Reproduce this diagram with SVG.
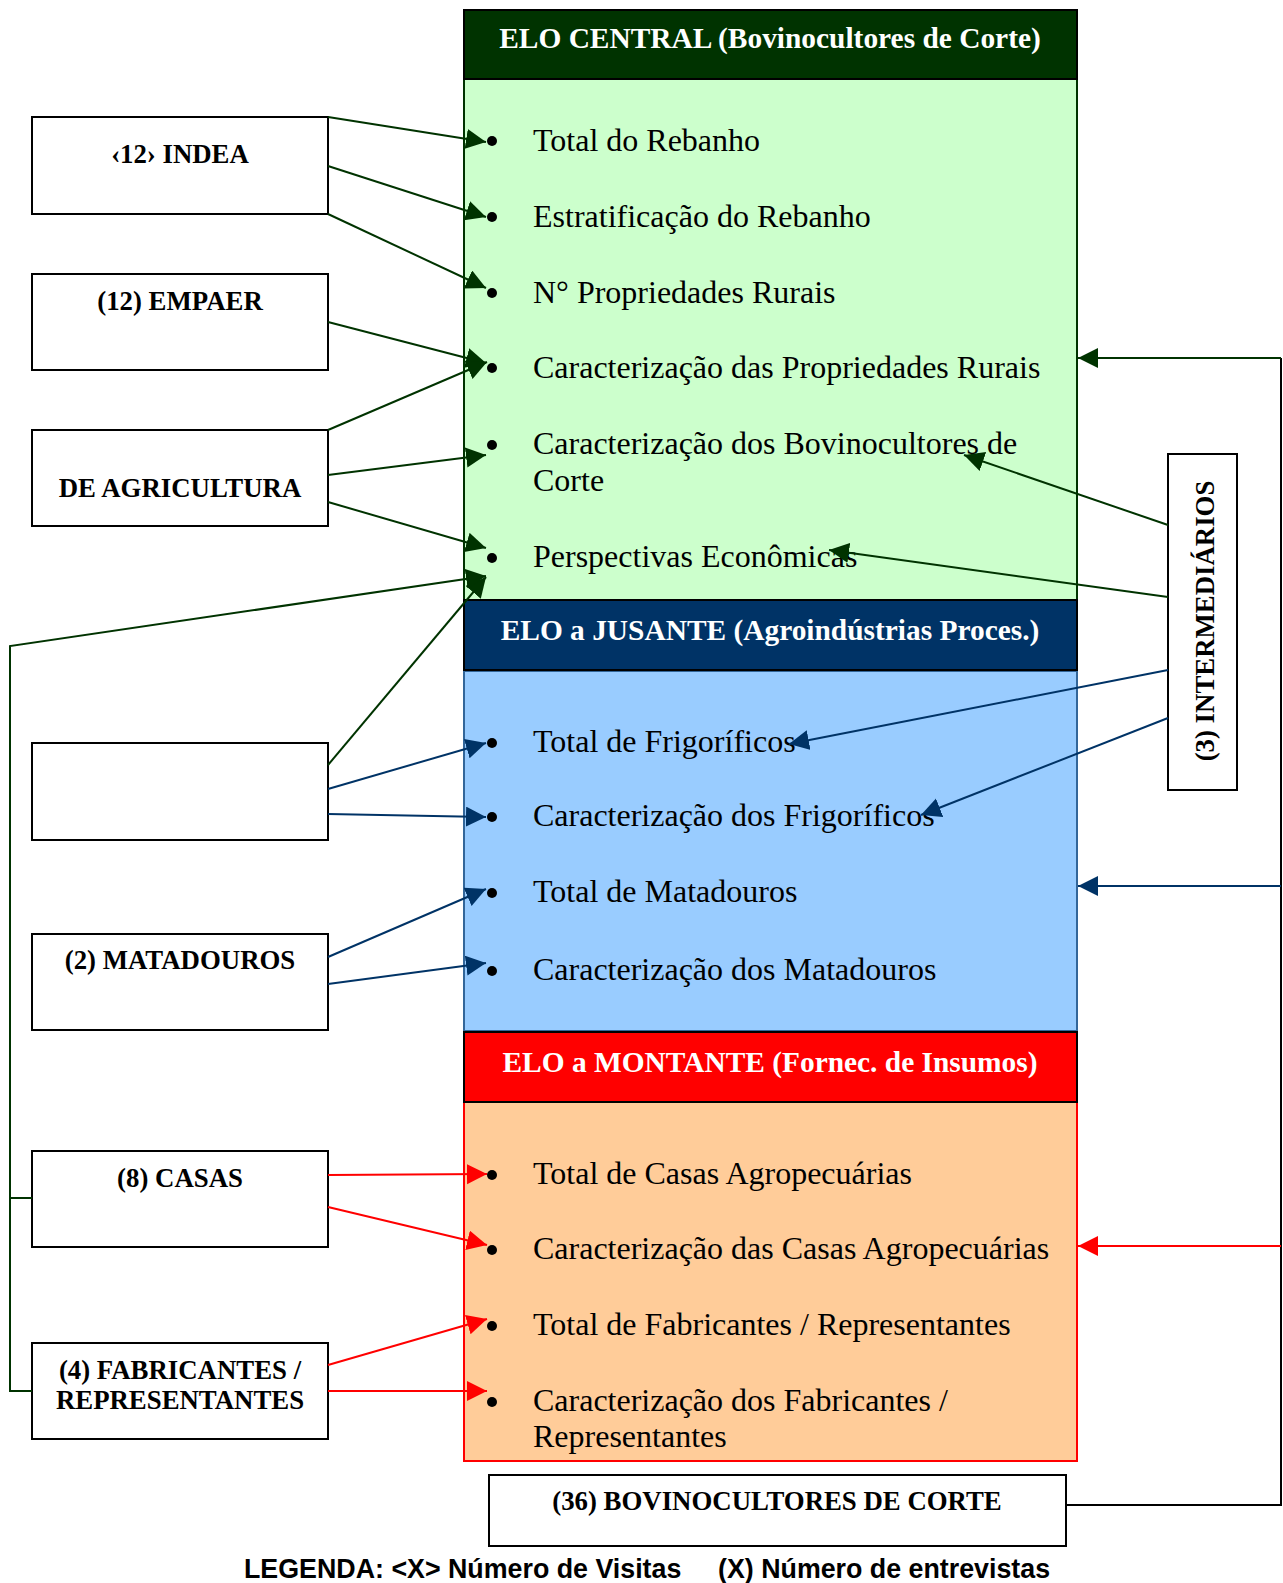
<svg xmlns="http://www.w3.org/2000/svg" width="1283" height="1583" viewBox="0 0 1283 1583">
<style>
.box{fill:#fff;stroke:#000;stroke-width:2}
.lbl{font-family:"Liberation Serif","Times New Roman",serif;font-weight:bold;font-size:26.8px;fill:#000;text-anchor:middle}
.hdr{font-family:"Liberation Serif","Times New Roman",serif;font-weight:bold;font-size:29.4px;fill:#fff;text-anchor:middle}
.item{font-family:"Liberation Serif","Times New Roman",serif;font-size:32px;fill:#000}
.leg{font-family:"Liberation Sans",Arial,sans-serif;font-weight:bold;font-size:26.8px;fill:#000}
.g{stroke:#003300;stroke-width:2;fill:none}
.b{stroke:#003366;stroke-width:2;fill:none}
.r{stroke:#ff0000;stroke-width:2;fill:none}
.k{stroke:#000;stroke-width:2;fill:none}
</style>
<defs>
<marker id="ag" markerUnits="userSpaceOnUse" markerWidth="22" markerHeight="22" refX="20" refY="10" orient="auto"><path d="M0,0 L20,10 L0,20 z" fill="#003300"/></marker>
<marker id="ab" markerUnits="userSpaceOnUse" markerWidth="22" markerHeight="22" refX="20" refY="10" orient="auto"><path d="M0,0 L20,10 L0,20 z" fill="#003366"/></marker>
<marker id="ar" markerUnits="userSpaceOnUse" markerWidth="22" markerHeight="22" refX="20" refY="10" orient="auto"><path d="M0,0 L20,10 L0,20 z" fill="#ff0000"/></marker>
</defs>

<g id="elo-central">
<rect x="464" y="79" width="613" height="521" fill="#ccffcc" stroke="#003300" stroke-width="2"/>
<rect x="464" y="10" width="613" height="69" fill="#003300" stroke="#000" stroke-width="2"/>
<text class="hdr" x="770" y="48">ELO CENTRAL (Bovinocultores de Corte)</text>
<circle cx="492" cy="141" r="5"/><text class="item" x="533" y="151">Total do Rebanho</text>
<circle cx="492" cy="217" r="5"/><text class="item" x="533" y="227">Estratificação do Rebanho</text>
<circle cx="492" cy="293" r="5"/><text class="item" x="533" y="303">N° Propriedades Rurais</text>
<circle cx="492" cy="368" r="5"/><text class="item" x="533" y="378">Caracterização das Propriedades Rurais</text>
<circle cx="492" cy="445" r="5"/><text class="item" x="533" y="454">Caracterização dos Bovinocultores de</text><text class="item" x="533" y="491">Corte</text>
<circle cx="492" cy="558" r="5"/><text class="item" x="533" y="567">Perspectivas Econômicas</text>
</g>

<g id="elo-jusante">
<rect x="464" y="671" width="613" height="360" fill="#99ccff" stroke="#336699" stroke-width="2"/>
<rect x="464" y="600" width="613" height="70" fill="#003366" stroke="#000" stroke-width="2"/>
<text class="hdr" x="770" y="640">ELO a JUSANTE (Agroindústrias Proces.)</text>
<circle cx="492" cy="743" r="5"/><text class="item" x="533" y="752">Total de Frigoríficos</text>
<circle cx="492" cy="817" r="5"/><text class="item" x="533" y="826">Caracterização dos Frigoríficos</text>
<circle cx="492" cy="893" r="5"/><text class="item" x="533" y="902">Total de Matadouros</text>
<circle cx="492" cy="971" r="5"/><text class="item" x="533" y="980">Caracterização dos Matadouros</text>
</g>

<g id="elo-montante">
<rect x="464" y="1102" width="613" height="359" fill="#ffcc99" stroke="#ff0000" stroke-width="2"/>
<rect x="464" y="1032" width="613" height="70" fill="#ff0000" stroke="#000" stroke-width="2"/>
<text class="hdr" x="770" y="1072">ELO a MONTANTE (Fornec. de Insumos)</text>
<circle cx="492" cy="1175" r="5"/><text class="item" x="533" y="1184">Total de Casas Agropecuárias</text>
<circle cx="492" cy="1250" r="5"/><text class="item" x="533" y="1259">Caracterização das Casas Agropecuárias</text>
<circle cx="492" cy="1326" r="5"/><text class="item" x="533" y="1335">Total de Fabricantes / Representantes</text>
<circle cx="492" cy="1402" r="5"/><text class="item" x="533" y="1411">Caracterização dos Fabricantes /</text><text class="item" x="533" y="1447">Representantes</text>
</g>

<g id="indea"><rect class="box" x="32" y="117" width="296" height="97"/><text class="lbl" x="180" y="163">‹12› INDEA</text></g>
<g id="empaer"><rect class="box" x="32" y="274" width="296" height="96"/><text class="lbl" x="180" y="310">(12) EMPAER</text></g>
<g id="agricultura"><rect class="box" x="32" y="430" width="296" height="96"/><text class="lbl" x="180" y="497">DE AGRICULTURA</text></g>
<g id="blank"><rect class="box" x="32" y="743" width="296" height="97"/></g>
<g id="matadouros"><rect class="box" x="32" y="934" width="296" height="96"/><text class="lbl" x="180" y="969">(2) MATADOUROS</text></g>
<g id="casas"><rect class="box" x="32" y="1151" width="296" height="96"/><text class="lbl" x="180" y="1187">(8) CASAS</text></g>
<g id="fabricantes"><rect class="box" x="32" y="1343" width="296" height="96"/><text class="lbl" x="180" y="1379">(4) FABRICANTES /</text><text class="lbl" x="180" y="1409">REPRESENTANTES</text></g>
<g id="intermediarios"><rect class="box" x="1168" y="454" width="69" height="336"/><text class="lbl" transform="translate(1214,621) rotate(-90)" x="0" y="0">(3) INTERMEDIÁRIOS</text></g>
<g id="bovinocultores"><rect class="box" x="489" y="1475" width="577" height="71"/><text class="lbl" x="777" y="1510">(36) BOVINOCULTORES DE CORTE</text></g>

<g id="connectors">
<line class="g" x1="328" y1="117" x2="486" y2="142" marker-end="url(#ag)"/>
<line class="g" x1="328" y1="166" x2="486" y2="217" marker-end="url(#ag)"/>
<line class="g" x1="328" y1="214" x2="486" y2="288" marker-end="url(#ag)"/>
<line class="g" x1="328" y1="322" x2="486" y2="363" marker-end="url(#ag)"/>
<line class="g" x1="328" y1="430" x2="487" y2="362" marker-end="url(#ag)"/>
<line class="g" x1="328" y1="475" x2="486" y2="455" marker-end="url(#ag)"/>
<line class="g" x1="328" y1="502" x2="486" y2="548" marker-end="url(#ag)"/>
<line class="g" x1="328" y1="765" x2="486" y2="577" marker-end="url(#ag)"/>
<polyline class="g" points="32,1391 10,1391 10,646 486,576" marker-end="url(#ag)"/>
<line class="g" x1="10" y1="1198" x2="32" y2="1198"/>
<line class="b" x1="328" y1="789" x2="486" y2="743" marker-end="url(#ab)"/>
<line class="b" x1="328" y1="814" x2="486" y2="817" marker-end="url(#ab)"/>
<line class="b" x1="328" y1="957" x2="486" y2="889" marker-end="url(#ab)"/>
<line class="b" x1="328" y1="984" x2="486" y2="963" marker-end="url(#ab)"/>
<line class="r" x1="328" y1="1175" x2="487" y2="1174" marker-end="url(#ar)"/>
<line class="r" x1="328" y1="1207" x2="487" y2="1245" marker-end="url(#ar)"/>
<line class="r" x1="328" y1="1365" x2="487" y2="1319" marker-end="url(#ar)"/>
<line class="r" x1="328" y1="1391" x2="487" y2="1391" marker-end="url(#ar)"/>
<line class="g" x1="1168" y1="525" x2="964" y2="455" marker-end="url(#ag)"/>
<line class="g" x1="1168" y1="597" x2="829" y2="550" marker-end="url(#ag)"/>
<line class="b" x1="1168" y1="670" x2="789" y2="744" marker-end="url(#ab)"/>
<line class="b" x1="1168" y1="718" x2="921" y2="815" marker-end="url(#ab)"/>
<polyline class="k" points="1066,1505 1281,1505 1281,358"/>
<line class="g" x1="1281" y1="358" x2="1078" y2="358" marker-end="url(#ag)"/>
<line class="b" x1="1281" y1="886" x2="1078" y2="886" marker-end="url(#ab)"/>
<line class="r" x1="1281" y1="1246" x2="1078" y2="1246" marker-end="url(#ar)"/>
</g>

<text class="leg" x="244" y="1578">LEGENDA: &lt;X&gt; Número de Visitas</text>
<text class="leg" x="718" y="1578">(X) Número de entrevistas</text>
</svg>
